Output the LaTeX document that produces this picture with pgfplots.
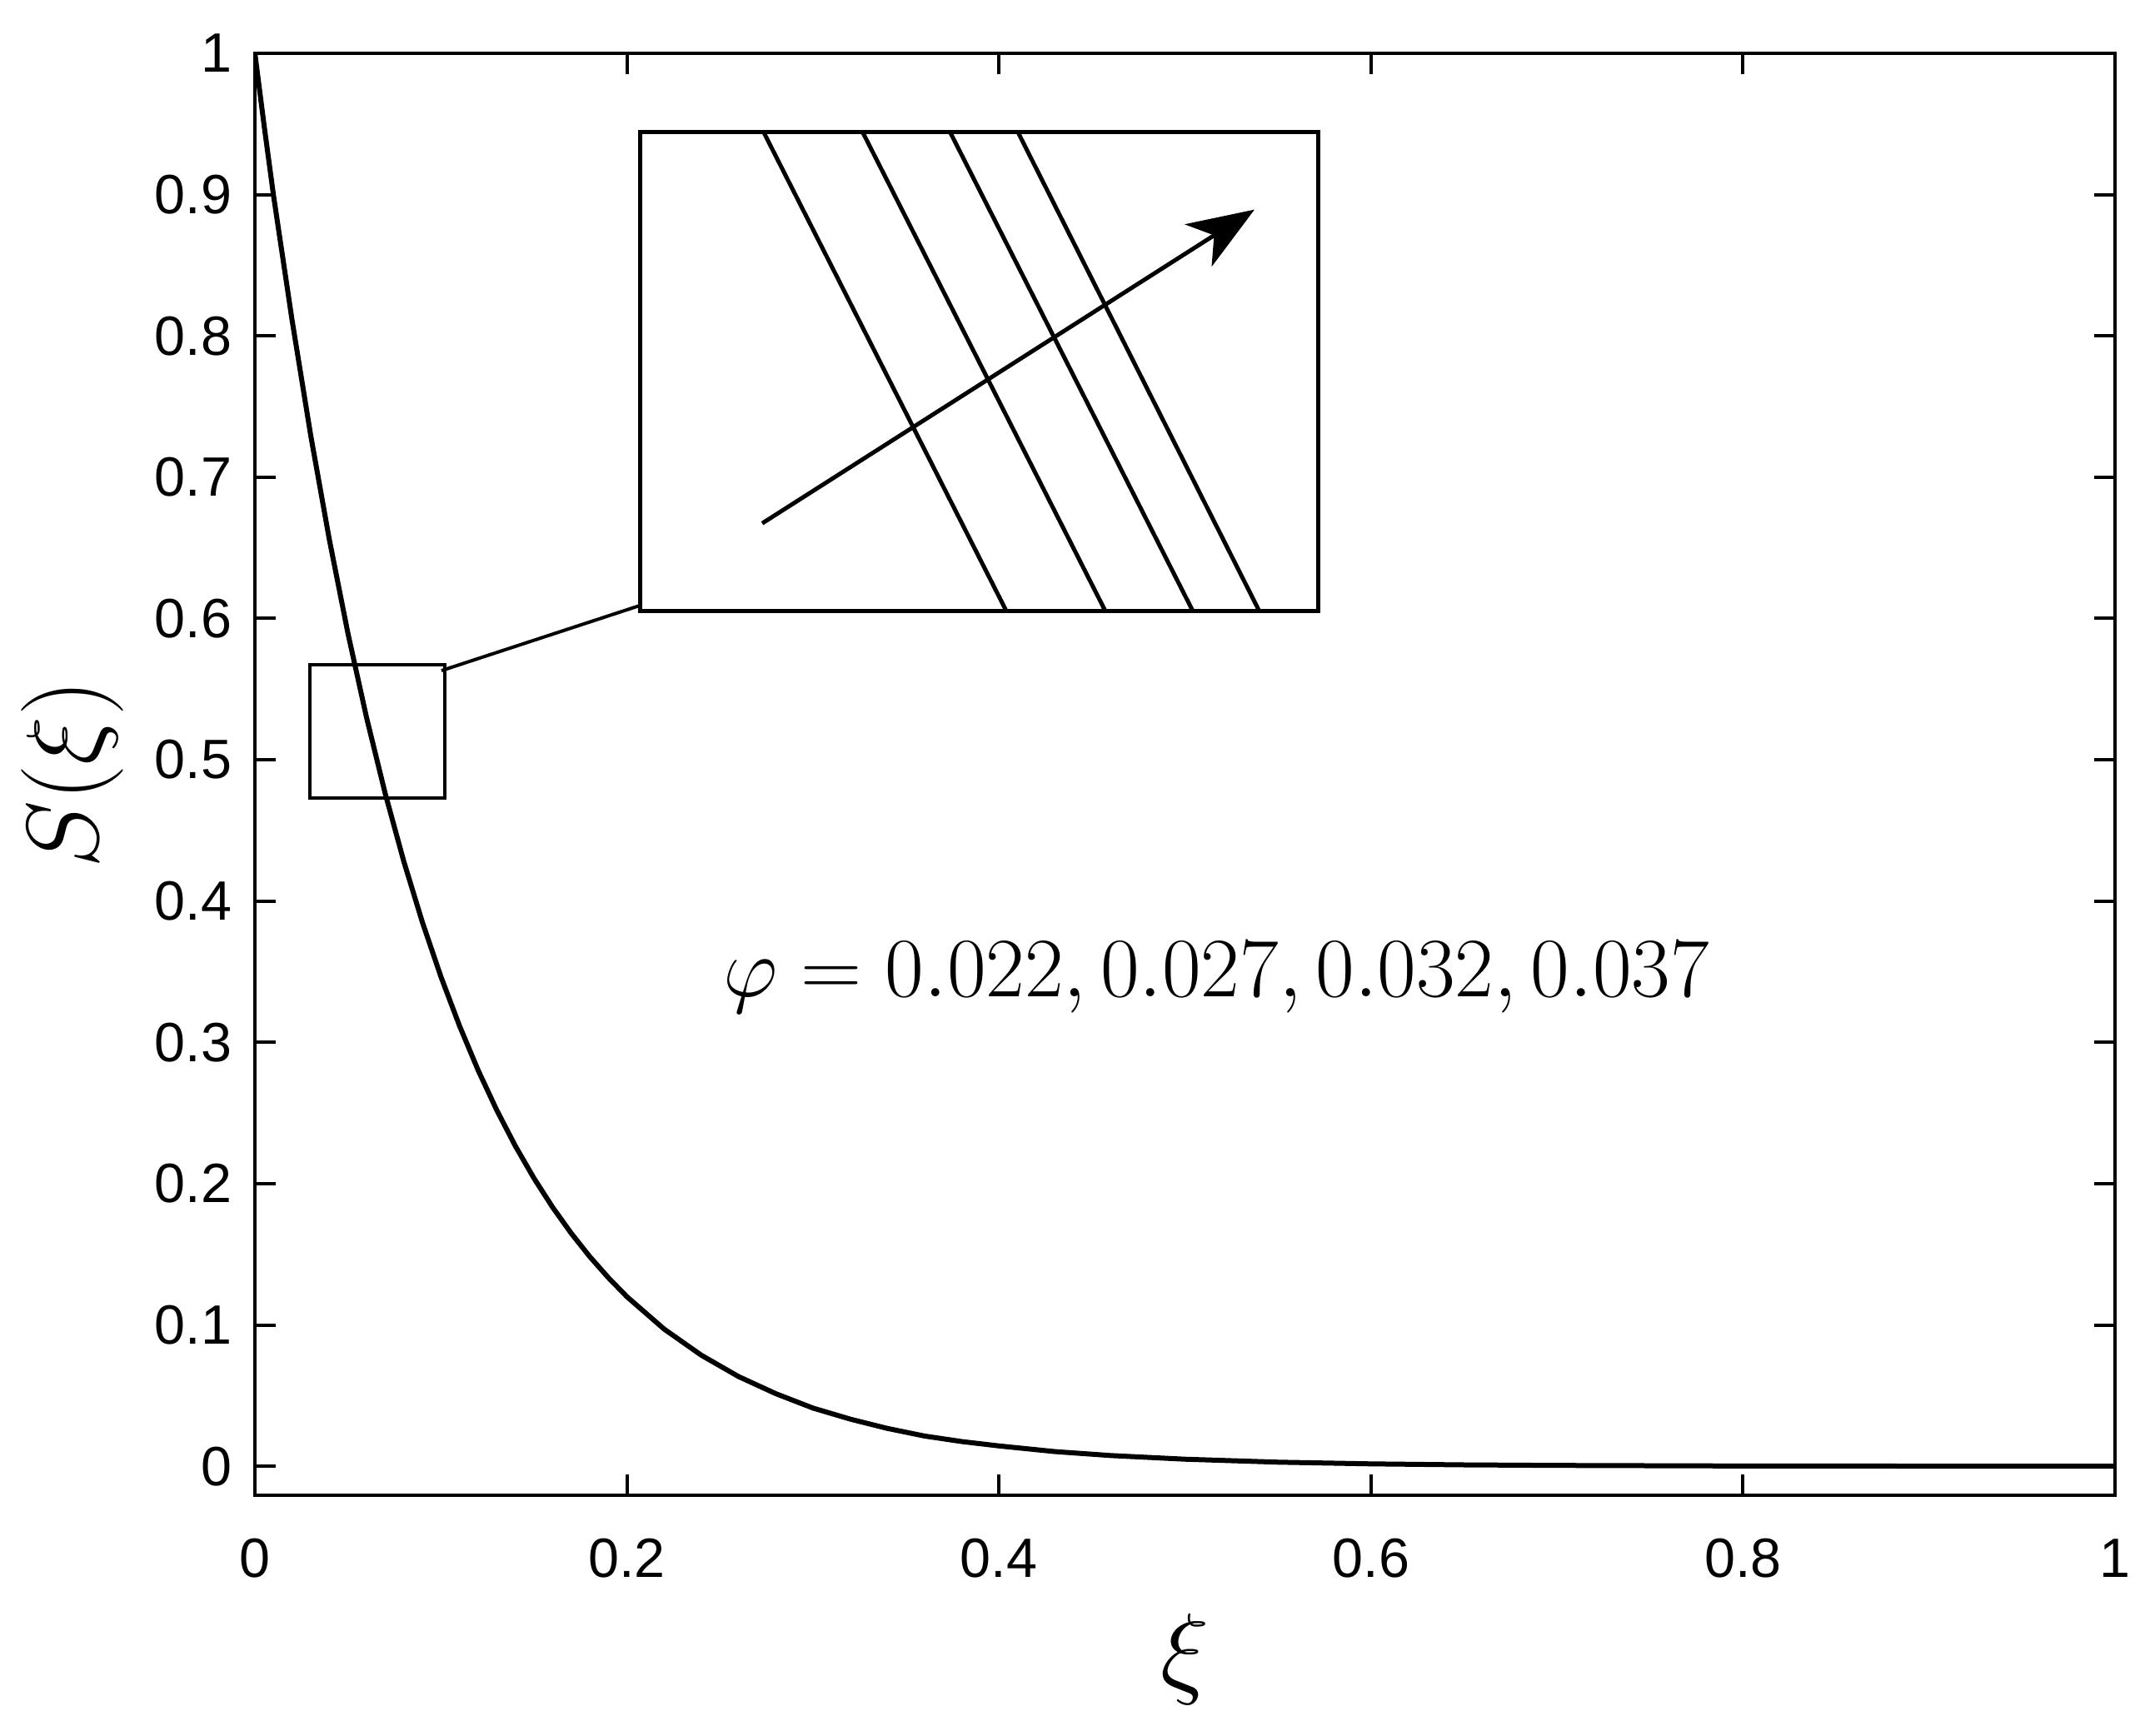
\RequirePackage{fix-cm}
\documentclass[border=0pt]{standalone}
\usepackage{fontspec}
\usepackage{pgfplots}
\pgfplotsset{compat=1.18}
\usetikzlibrary{arrows.meta}
\newfontfamily\arialfont{Liberation Sans}

\begin{document}
\begin{tikzpicture}
\useasboundingbox (-61.2pt,-57.8pt) rectangle (453.8pt,359pt);
\begin{axis}[
  at={(0pt,0pt)}, anchor=south west,
  scale only axis, width=446.6pt, height=346.2pt,
  xmin=0, xmax=1, ymin=-0.0205, ymax=1,
  xtick={0,0.2,0.4,0.6,0.8,1},
  xticklabels={0,0.2,0.4,0.6,0.8,1},
  ytick={0,0.1,0.2,0.3,0.4,0.5,0.6,0.7,0.8,0.9,1},
  yticklabels={0,0.1,0.2,0.3,0.4,0.5,0.6,0.7,0.8,0.9,1},
  tick align=inside, tick pos=both, major tick length=5pt,
  axis line style={line width=0.8pt},
  every tick/.style={line width=0.8pt, black},
  /pgf/number format/assume math mode=true,
  tick label style={font=\arialfont\fontsize{13.3}{16}\selectfont, inner sep=0pt},
  yticklabel style={xshift=-5.4pt},
  xticklabel style={yshift=-10.3pt},
  xlabel={$\xi$}, ylabel={$S(\xi)$},
  every axis x label/.style={at={(axis description cs:0.5,-0.1317)}, anchor=base, font=\fontsize{24.5}{29}\selectfont},
  every axis y label/.style={at={(axis description cs:-0.0846,0.5)}, anchor=base, rotate=90, font=\fontsize{24.5}{29}\selectfont},
]
\addplot[black, line width=1.2pt] coordinates {
(0,1) (0.005,0.9484) (0.01,0.8994) (0.02,0.8110) (0.03,0.7296) (0.04,0.6560)
(0.05,0.5896) (0.06,0.5300) (0.07,0.4764) (0.08,0.4283) (0.09,0.3852)
(0.10,0.3465) (0.11,0.3117) (0.12,0.2803) (0.13,0.2521) (0.14,0.2267)
(0.15,0.2039) (0.16,0.1834) (0.17,0.1650) (0.18,0.1484) (0.19,0.1335)
(0.20,0.1200) (0.22,0.0971) (0.24,0.0786) (0.26,0.0635) (0.28,0.0514)
(0.30,0.0412) (0.32,0.0334) (0.34,0.0268) (0.36,0.0214) (0.38,0.0175)
(0.40,0.0144) (0.43,0.0104) (0.46,0.0076) (0.50,0.0050) (0.55,0.0029)
(0.60,0.0017) (0.65,0.0010) (0.70,0.0006) (0.80,0.0002) (0.90,0.0001) (1.00,0.0000)
};
\draw[line width=0.8pt] (axis cs:0.0294,0.4728) rectangle (axis cs:0.1021,0.5672);
\draw[line width=0.8pt] (axis cs:0.1003,0.5631) -- (axis cs:0.2073,0.6093);
\node[anchor=base, font=\fontsize{20.3}{24}\selectfont] at (axis cs:0.5168,0.3323)
  {$\varphi = 0.022, 0.027, 0.032, 0.037$};
\end{axis}

\begin{axis}[
  at={(92.5pt,212.3pt)}, anchor=south west,
  scale only axis, width=162.8pt, height=115pt,
  xmin=0, xmax=1, ymin=0, ymax=1,
  xtick=\empty, ytick=\empty,
  axis line style={line width=0.9pt},
  axis background/.style={fill=white},
]
\addplot[black, line width=1pt] coordinates {(0.182,1) (0.361,0.5) (0.540,0)};
\addplot[black, line width=1pt] coordinates {(0.328,1) (0.507,0.5) (0.686,0)};
\addplot[black, line width=1pt] coordinates {(0.457,1) (0.636,0.5) (0.815,0)};
\addplot[black, line width=1pt] coordinates {(0.557,1) (0.735,0.5) (0.913,0)};
\draw[line width=1pt, -{Stealth[length=16pt,width=12pt,inset=4.5pt]}]
  (axis cs:0.180,0.183) -- (axis cs:0.906,0.838);
\end{axis}
\end{tikzpicture}
\end{document}
